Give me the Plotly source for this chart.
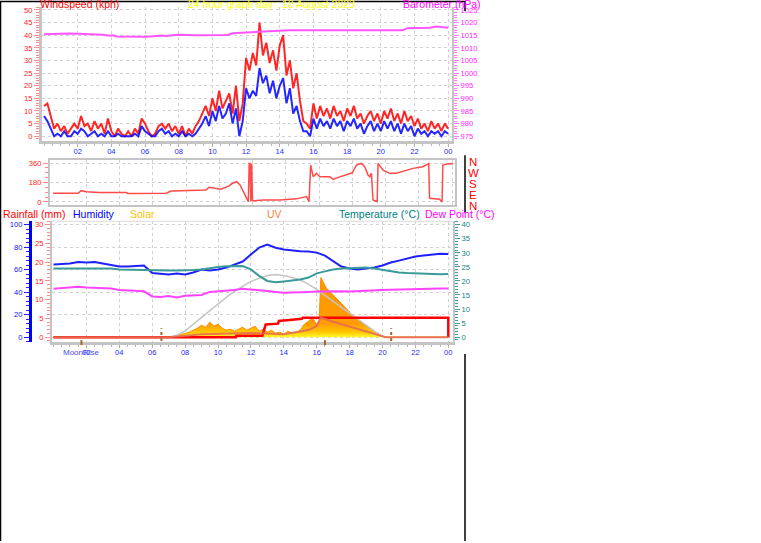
import plotly.graph_objects as go

W, H = 761, 543
FONT = "Liberation Sans, Arial, sans-serif"


def PX(x):
    return x / W


def PY(y):
    return 1 - y / H


# ---------------- DATA ----------------
hour_labels = ["02", "04", "06", "08", "10", "12", "14", "16", "18", "20", "22", "00"]
hour_ticks = [2, 4, 6, 8, 10, 12, 14, 16, 18, 20, 22, 24]

# wind, sampled every 0.2 h
wind_t = [round(i * 0.2, 1) for i in range(121)]
wind_gust = [12, 13, 8, 3, 5, 2, 4, 1, 3, 5,
             3, 8, 4, 5, 2, 6, 3, 5, 1, 7,
             2, 0, 3, 1, 0, 2, 0, 3, 1, 7,
             5, 2, 0, 1, 4, 5, 3, 5, 2, 4,
             1, 4, 0, 3, 1, 4, 6, 9, 12, 8,
             15, 10, 18, 11, 14, 17, 9, 20, 6, 13,
             31, 26, 33, 28, 45, 32, 37, 29, 34, 26,
             36, 40, 24, 30, 19, 25, 14, 6, 5, 3,
             13, 7, 12, 8, 11, 7, 12, 8, 10, 6,
             11, 8, 12, 7, 9, 5, 8, 10, 6, 9,
             5, 10, 7, 11, 6, 9, 5, 10, 6, 8,
             4, 7, 3, 5, 2, 6, 3, 5, 2, 5,
             3]
wind_avg = [8, 6, 3, 0, 1, 0, 2, 0, 0, 2,
            1, 3, 2, 0, 1, 2, 0, 1, 0, 2,
            0, 0, 1, 0, 0, 0, 0, 1, 0, 4,
            2, 1, 0, 0, 2, 3, 1, 2, 0, 1,
            0, 2, 0, 1, 0, 1, 3, 5, 8, 4,
            10, 6, 12, 7, 9, 13, 5, 11, 0, 6,
            19, 15, 18, 16, 27, 21, 24, 17, 22, 15,
            20, 23, 13, 19, 9, 12, 6, 2, 2, 0,
            7, 3, 7, 4, 6, 3, 7, 4, 6, 2,
            6, 4, 7, 3, 5, 1, 4, 6, 2, 5,
            2, 6, 3, 6, 2, 5, 1, 5, 2, 4,
            0, 3, 1, 2, 0, 2, 1, 2, 0, 2,
            1]

baro_t = [0, 0.5, 1, 1.5, 2, 2.5, 3, 3.5, 3.9, 4.1, 4.3, 5, 6, 6.5, 7, 7.2, 7.5, 8, 9, 10,
          10.9, 11.2, 12, 12.5, 13, 13.5, 14, 14.6, 17, 21.3, 21.6, 22.9, 23.3, 23.6, 24]
baro_v = [1015.4, 1015.5, 1015.7, 1015.7, 1015.6, 1015.5, 1015.4, 1015.2, 1014.8, 1015.0,
          1014.5, 1014.4, 1014.4, 1014.6, 1014.9, 1014.7, 1014.9, 1015.2, 1015.0, 1015.0,
          1015.1, 1015.8, 1016.1, 1016.3, 1016.5, 1016.4, 1016.8, 1017.0, 1017.0, 1017.0,
          1017.8, 1018.0, 1018.4, 1018.1, 1018.0]

dir_t = [0.0, 1.5, 1.7, 2.0, 2.8, 4.4, 4.5, 6.8, 7.1, 8.8, 9.2, 9.4, 9.8, 10.1, 10.6, 10.8,
         11.05, 11.25, 11.75, 11.8, 11.85, 11.9, 11.95, 12.0, 12.25, 12.65, 13.65, 14.0,
         14.65, 15.25, 15.4, 15.5, 15.65, 15.85, 16.05, 16.65, 16.85, 17.2, 17.65, 18.0,
         18.25, 18.55, 18.75, 18.95, 19.05, 19.15, 19.25, 19.5, 19.55, 19.85, 20.25, 20.65,
         21.2, 21.65, 22.25, 22.6, 22.65, 23.25, 23.4, 23.45, 23.85, 24.05]
dir_v = [80, 80, 104, 95, 86, 86, 78, 80, 101, 104, 111, 136, 126, 117, 148, 173,
         187, 157, 3, 358, 357, 5, 355, 10, 12, 18, 18, 22,
         28, 49, 3, 342, 234, 265, 234, 234, 209, 230, 249, 270,
         342, 357, 326, 249, 234, 265, 18, 3, 357, 295, 265, 265,
         290, 311, 326, 357, 34, 25, 0, 342, 357, 352]

half_t = [i * 0.5 for i in range(49)]
humidity = [64.6, 65.0, 65.5, 66.8, 66.4, 66.8, 65.5, 63.7, 62.8, 62.8,
            63.3, 63.7, 57.1, 56.6, 55.8, 56.6, 55.8, 57.5, 60.2, 59.3,
            60.2, 61.9, 64.6, 67.3, 73.5, 79.6, 82.3, 79.6, 77.9, 77.0,
            76.5, 76.1, 75.2, 72.6, 67.3, 62.8, 61.1, 60.2, 61.1, 61.9,
            63.7, 66.4, 68.1, 69.9, 71.7, 72.6, 73.5, 74.3, 73.9]
temperature = [24.4, 24.4, 24.4, 24.5, 24.6, 24.6, 24.6, 24.4, 24.1, 24.0,
               23.9, 23.8, 23.7, 23.7, 23.7, 23.7, 23.7, 23.9, 24.1, 24.6,
               25.0, 25.2, 25.3, 25.3, 24.1, 21.8, 20.0, 19.5, 19.8, 20.2,
               20.5, 21.2, 22.7, 23.4, 24.1, 24.4, 24.6, 24.7, 24.8, 24.4,
               23.9, 23.4, 23.0, 22.8, 22.7, 22.5, 22.3, 22.4, 22.5]
dew_point = [17.2, 17.4, 17.6, 17.9, 17.7, 17.6, 17.5, 17.3, 16.8, 16.7,
             16.6, 16.3, 14.5, 14.3, 14.6, 14.1, 14.7, 14.9, 15.0, 16.1,
             16.3, 16.4, 16.8, 17.2, 17.0, 16.8, 16.4, 16.1, 15.8, 15.9,
             16.1, 16.1, 16.2, 16.3, 16.4, 16.3, 16.2, 16.4, 16.6, 16.7,
             16.8, 16.9, 17.0, 17.1, 17.2, 17.3, 17.3, 17.3, 17.3]

rain_t = [0, 11.1, 11.12, 12.7, 12.9, 13.65, 13.7, 14.3, 14.35, 15.1, 15.15, 24.0, 24.0]
rain_v = [0, 0, 0.4, 0.4, 3.4, 3.6, 4.3, 4.4, 4.6, 4.9, 5.2, 5.2, 0]

solar_t = [0, 7.0, 7.25, 7.5, 7.75, 8.0, 8.25, 8.5, 8.75, 9.0, 9.25, 9.5, 9.75, 10.0, 10.25,
           10.5, 10.75, 11.0, 11.25, 11.5, 11.75, 12.0, 12.25, 12.5, 12.75, 13.0, 13.25,
           13.5, 13.75, 14.0, 14.25, 14.5, 14.75, 15.0, 15.25, 15.5, 15.75, 16.0, 16.15,
           16.25, 16.4, 16.6, 16.8, 17.0, 17.25, 17.5, 17.75, 18.0, 18.25, 18.5, 18.75,
           19.0, 19.25, 19.5, 19.75, 20.0, 20.25, 24.0]
solar_w = [0, 0, 5, 16, 27, 42, 53, 74, 96, 127, 106, 159, 117, 138, 96,
           74, 85, 64, 85, 106, 74, 96, 117, 64, 85, 53, 74,
           42, 53, 32, 64, 42, 53, 74, 138, 170, 212, 127, 170,
           637, 584, 520, 488, 446, 404, 361, 308, 265, 223, 191, 159,
           127, 96, 64, 32, 11, 0, 0]

solar_max_t = [7.0, 7.5, 8.0, 8.5, 9.0, 9.5, 10.0, 10.5, 11.0, 11.5, 12.0, 12.5, 13.0, 13.5,
               14.0, 14.5, 15.0, 15.5, 16.0, 16.5, 17.0, 17.5, 18.0, 18.5, 19.0, 19.5, 20.0, 20.1]
solar_max_w = [0, 21, 67, 138, 212, 287, 361, 425, 488, 542, 595, 627, 658, 669,
               658, 637, 612, 563, 510, 446, 382, 318, 255, 191, 127, 64, 11, 0]

uv_t = [0, 7.0, 9.0, 10.0, 12.0, 14.0, 15.0, 15.5, 16.0, 16.25, 17.0, 17.5, 18.0, 18.5,
        19.0, 19.5, 20.0, 20.2, 24.0]
uv_v = [0, 0, 0.4, 0.5, 0.6, 0.4, 0.8, 1.0, 1.6, 2.8, 2.2, 1.85, 1.5, 1.1,
        0.76, 0.4, 0.05, 0, 0]

sun_rise_set = [6.56, 20.53]
moon_marks = [1.7, 16.5]

# ---------------- FIGURE ----------------
fig = go.Figure()

# panel 1
fig.add_trace(go.Scatter(x=wind_t, y=wind_gust, mode="lines", xaxis="x", yaxis="y",
                         line=dict(color="rgba(255,0,0,0.85)", width=2)))
fig.add_trace(go.Scatter(x=wind_t, y=wind_avg, mode="lines", xaxis="x", yaxis="y",
                         line=dict(color="rgba(0,0,255,0.85)", width=2)))
fig.add_trace(go.Scatter(x=baro_t, y=baro_v, mode="lines", xaxis="x", yaxis="y2",
                         line=dict(color="#FF55FF", width=2)))

# panel 2
fig.add_trace(go.Scatter(x=dir_t, y=dir_v, mode="lines", xaxis="x2", yaxis="y3",
                         line=dict(color="#FF4A4A", width=1.5)))

# panel 3
fig.add_trace(go.Scatter(x=solar_t, y=solar_w, mode="lines", xaxis="x3", yaxis="y4",
                         fill="tozeroy",
                         fillgradient=dict(type="vertical", start=0, stop=150,
                                           colorscale=[[0, "#FFFF30"], [0.4, "#FFC800"],
                                                       [1, "#FF9A00"]]),
                         line=dict(color="#FF8C00", width=1)))
fig.add_trace(go.Scatter(x=solar_max_t, y=solar_max_w, mode="lines", xaxis="x3", yaxis="y4",
                         line=dict(color="#C4C4C4", width=1.5)))
fig.add_trace(go.Scatter(x=rain_t, y=rain_v, mode="lines", xaxis="x3", yaxis="y5",
                         line=dict(color="#FF0000", width=2.5)))
fig.add_trace(go.Scatter(x=uv_t, y=uv_v, mode="lines", xaxis="x3", yaxis="y6",
                         line=dict(color="rgba(230,110,80,0.9)", width=2)))
fig.add_trace(go.Scatter(x=half_t, y=humidity, mode="lines", xaxis="x3", yaxis="y7",
                         line=dict(color="#2020FF", width=2)))
fig.add_trace(go.Scatter(x=half_t, y=temperature, mode="lines", xaxis="x3", yaxis="y8",
                         line=dict(color="#3A9A9A", width=2)))
fig.add_trace(go.Scatter(x=half_t, y=dew_point, mode="lines", xaxis="x3", yaxis="y8",
                         line=dict(color="#FF44FF", width=2)))

tickf = dict(family=FONT, size=7.6)
grid = dict(showgrid=True, gridcolor="#D2D2D2", griddash="dot", gridwidth=1)
AX = "#C4C4C4"


def xa(domain, x0, pph, anchor, labels=True):
    lo = domain[0]
    hi = domain[1]
    d = dict(domain=[PX(lo), PX(hi)], range=[(lo - x0) / pph, (hi - x0) / pph], anchor=anchor,
             tickmode="array", tickvals=hour_ticks, ticktext=hour_labels,
             tickfont=dict(tickf, color="#2828FF"), showline=True, linecolor=AX,
             linewidth=3, zeroline=False, **grid)
    if labels:
        d.update(ticks="outside", ticklen=3, tickcolor="#B0B0B0", ticklabelstandoff=-2,
                 minor=dict(ticks="outside", ticklen=2, tickcolor="#B8B8B8", dtick=0.5,
                            tick0=0, showgrid=False))
    else:
        d.update(showticklabels=False, ticks="", mirror=True, linewidth=2)
    return d


def ya(ybot, ytop, zero_px, pxu, color, tickcolor, dtick, minor, **kw):
    d = dict(range=[(zero_px - ybot) / pxu, (zero_px - ytop) / pxu],
             tickmode="linear", tick0=0, dtick=dtick,
             tickfont=dict(tickf, color=color), ticks="outside", ticklen=5,
             tickcolor=tickcolor, zeroline=False,
             minor=dict(ticks="outside", ticklen=3, tickcolor=tickcolor, dtick=minor,
                        tick0=0, showgrid=False))
    d.update(kw)
    return d


layout = dict(
    width=W, height=H, margin=dict(l=0, r=0, t=0, b=0), autosize=False,
    paper_bgcolor="white", plot_bgcolor="white", showlegend=False,
    font=dict(family=FONT),
    xaxis=xa((42, 452), 44, 16.84, "y"),
    xaxis2=xa((50, 455), 53, 16.625, "y3", labels=False),
    xaxis3=xa((52, 453), 53.5, 16.45, "y4"),
    yaxis=dict(ya(141, 6, 136, 2.54, "#FF2020", "#FF8888", 5, 1),
               domain=[PY(141), PY(6)], anchor="x", showline=True, linecolor=AX,
               linewidth=3, **grid),
    yaxis2=dict(ya(141, 6, 136, 2.54, "#FF22FF", "#FF77FF", 5, 1),
                overlaying="y", side="right", anchor="x", showline=True, linecolor=AX,
                linewidth=2, showgrid=False, tick0=975),
    yaxis3=dict(range=[-3 / 0.10833, 42 / 0.10833], domain=[PY(205), PY(160)], anchor="x2",
                tickmode="array", tickvals=[0, 180, 360],
                tickfont=dict(tickf, color="#FF2020"), ticks="outside", ticklen=5,
                tickcolor="#FF8888", zeroline=False, showline=True, mirror=True,
                linecolor=AX, linewidth=2,
                minor=dict(ticks="outside", ticklen=3, tickcolor="#FF8888", dtick=45,
                           tick0=0, showgrid=False), **grid),
    yaxis4=dict(range=[-5 / 0.094167, 117 / 0.094167], domain=[PY(343), PY(221)],
                anchor="x3", visible=False),
    yaxis5=dict(ya(343, 221, 338, 3.7667, "#FF2020", "#FF8888", 5, 1),
                overlaying="y4", anchor="x3", side="left", showline=True, linecolor=AX,
                linewidth=2, showgrid=False),
    yaxis6=dict(range=[-5 / 7.0625, 117 / 7.0625], overlaying="y4", anchor="x3",
                visible=False),
    yaxis7=dict(ya(343, 221, 338, 1.13, "#1010FF", "#2020FF", 20, 4),
                overlaying="y4", anchor="free", position=PX(30), side="left",
                showline=True, linecolor="#0000FF", linewidth=3, **grid),
    yaxis8=dict(ya(343, 221, 338, 2.825, "#138080", "#40A0A0", 5, 1),
                overlaying="y4", anchor="x3", side="right", showline=True, linecolor=AX,
                linewidth=2, showgrid=False),
)
# barometer range is offset from the wind range by 975 hPa
layout["yaxis2"]["range"] = [975 + v for v in layout["yaxis"]["range"]]
fig.update_layout(**layout)


def ann(text, x, y, color, size=10.5, xanchor="left"):
    fig.add_annotation(text=text, x=PX(x), y=PY(y), xref="paper", yref="paper",
                       xanchor=xanchor, yanchor="middle", showarrow=False,
                       font=dict(family=FONT, size=size, color=color))


ann("Windspeed (kph)", 38, 3.5, "#FF0000")
ann("24 hour graph day : 10 August 2023", 186, 3.5, "#FFFF00")
ann("Barometer (hPa)", 401, 3.5, "#FF00FF")
ann("Rainfall (mm)", 1, 214.5, "#FF0000")
ann("Humidity", 71, 214.5, "#0000FF")
ann("Solar", 128, 214.5, "#FFC000")
ann("UV", 265, 214.5, "#FF7F40")
ann("Temperature (°C)", 337, 214.5, "#008080")
ann("Dew Point (°C)", 423, 214.5, "#FF00FF")
for letter, yy in zip(["N", "W", "S", "E", "N"], [162, 173, 184, 195, 206]):
    ann(letter, 473, yy, "#FF0000", size=11.5, xanchor="center")
ann("MoonRise", 81, 353, "#4848FF", size=8, xanchor="center")

shapes = []
black = dict(color="black", width=1.5)
for (x0, y0, x1, y1) in [(0.5, 0, 0.5, 543), (0, 0.5, 465, 0.5), (465, 0, 465, 10),
                         (465, 155, 465, 213), (465, 355, 465, 543)]:
    shapes.append(dict(type="line", xref="paper", yref="paper", x0=PX(x0), y0=PY(y0),
                       x1=PX(x1), y1=PY(y1), line=black))
shapes.append(dict(type="line", xref="paper", yref="paper", x0=PX(52), x1=PX(453),
                   y0=PY(221.5), y1=PY(221.5), line=dict(color="#DADADA", width=1)))
for t in sun_rise_set:
    shapes.append(dict(type="line", xref="x3", yref="paper", x0=t, x1=t, y0=PY(342),
                       y1=PY(329), line=dict(color="#9A6A30", width=2, dash="dot")))
for t in moon_marks:
    shapes.append(dict(type="line", xref="x3", yref="paper", x0=t, x1=t, y0=PY(346),
                       y1=PY(341), line=dict(color="#9A6A30", width=2)))
fig.update_layout(shapes=shapes)

fig.write_html("out.html",
               config={"displayModeBar": False},
               post_script="document.body.style.margin='0px';"
                           "document.body.style.overflow='hidden';")
